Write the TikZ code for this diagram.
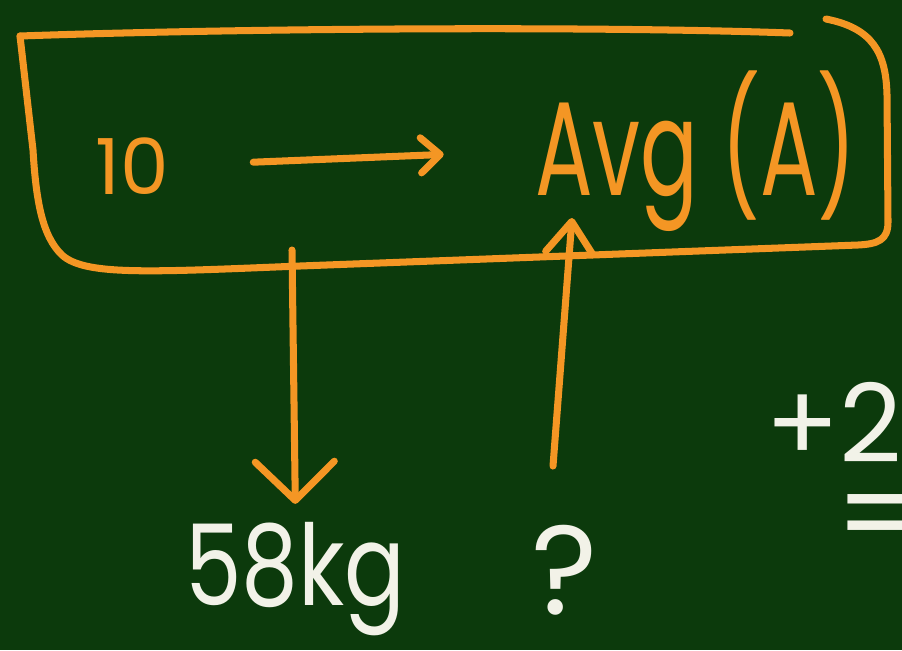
\documentclass[tikz,border=0pt]{standalone}
\usepackage{fontspec}
\setmainfont{Poppins}
\usetikzlibrary{arrows.meta}
\definecolor{Board}{RGB}{12, 58, 12}
\definecolor{Chalk}{RGB}{244, 150, 36}
\definecolor{ChalkW}{RGB}{242, 242, 232}

\tikzset{
  pen/.style={Chalk, line width=4pt, line cap=round, line join=round},
  word/.style={inner sep=0pt, Chalk},
}

\begin{document}
\begin{tikzpicture}[x=0.02cm, y=-0.02cm]

% Board
\fill[Board] (0,0) rectangle (902,650);
\clip (0,0) rectangle (902,650);
\useasboundingbox (0,0) rectangle (902,650);

% Hand-drawn box
\draw[pen] (20,36) .. controls (250,28) and (600,26) .. (790,33);
\draw[pen] (826,19) .. controls (872,28) and (886,52) .. (887,95)
  -- (888,222) .. controls (888,240) and (878,244) .. (858,245)
  -- (300,266) .. controls (150,272) and (85,276) .. (62,255)
  .. controls (42,236) and (36,200) .. (33,150) -- (20,36);

% Top row
\node[word, anchor=base west, font=\fontsize{44}{44}\selectfont] (ten) at (95,194) {10};
\node[word, anchor=base west, font=\fontsize{76}{76}\selectfont] (avg) at (535,195)
  {\scalebox{0.64}[1]{Avg (A)}};
\draw[pen, -{Straight Barb[length=11pt, width=20pt, round]},
  shorten <=48pt, shorten >=52pt] (ten.east) -- (avg.west);

% Bottom row
\node[word, ChalkW, anchor=base west, font=\fontsize{64}{64}\selectfont] (kg) at (185,605)
  {\scalebox{0.8}[1]{58kg}};
\node[word, ChalkW, anchor=base, font=\fontsize{72}{72}\selectfont] (ask) at (565,614) {?};
\node[word, ChalkW, anchor=base west, font=\fontsize{62}{62}\selectfont] (plus) at (765,462) {+2};
\node[word, ChalkW, font=\fontsize{70}{70}\selectfont] (eq) at (880,526) {=};

% Connectors
\coordinate (boxout) at (292,250);
\draw[pen, -{Straight Barb[length=22pt, width=45pt, round]}, shorten >=10pt]
  (boxout) -- (kg.north);
\coordinate (askin) at (553,466);
\coordinate (avgfoot) at (572,218);
\draw[pen, -{Straight Barb[length=18pt, width=27pt, round]}] (askin) -- (avgfoot);

\end{tikzpicture}
\end{document}
